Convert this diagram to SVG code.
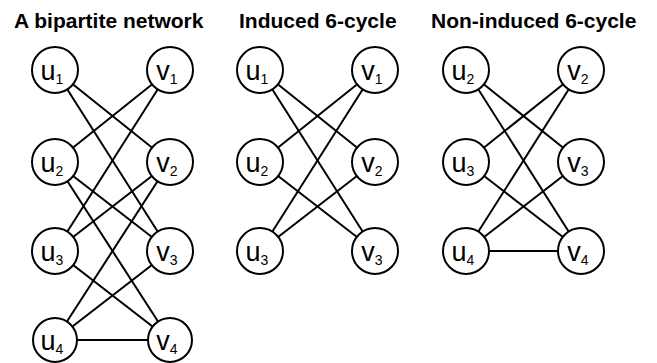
<svg xmlns="http://www.w3.org/2000/svg" width="657" height="363" viewBox="0 0 657 363">
<style>
.t{font-family:"Liberation Sans",Arial,sans-serif;font-weight:bold;font-size:21px;fill:#000}
.n circle{fill:#fff;stroke:#000;stroke-width:2}
.n text{font-family:"Liberation Sans",Arial,sans-serif;font-size:27px;fill:#000;text-anchor:middle}
.n tspan{font-size:14px}
.e line{stroke:#000;stroke-width:2}
</style>
<rect width="657" height="363" fill="#fff"/>
<text class="t" x="14" y="28">A bipartite network</text>
<text class="t" x="239" y="28">Induced 6-cycle</text>
<text class="t" x="431" y="28">Non-induced 6-cycle</text>
<g id="connectors" class="e">
<line x1="55" y1="70" x2="170" y2="162"/>
<line x1="55" y1="70" x2="170" y2="251"/>
<line x1="170" y1="70" x2="55" y2="162"/>
<line x1="170" y1="70" x2="55" y2="251"/>
<line x1="55" y1="162" x2="170" y2="251"/>
<line x1="55" y1="162" x2="170" y2="340"/>
<line x1="170" y1="162" x2="55" y2="251"/>
<line x1="170" y1="162" x2="55" y2="340"/>
<line x1="55" y1="251" x2="170" y2="340"/>
<line x1="55" y1="340" x2="170" y2="251"/>
<line x1="55" y1="340" x2="170" y2="340"/>
<line x1="260" y1="70" x2="375" y2="162"/>
<line x1="260" y1="70" x2="375" y2="251"/>
<line x1="375" y1="70" x2="260" y2="162"/>
<line x1="375" y1="70" x2="260" y2="251"/>
<line x1="260" y1="162" x2="375" y2="251"/>
<line x1="375" y1="162" x2="260" y2="251"/>
<line x1="466" y1="70" x2="581" y2="162"/>
<line x1="466" y1="70" x2="581" y2="251"/>
<line x1="581" y1="70" x2="466" y2="162"/>
<line x1="581" y1="70" x2="466" y2="251"/>
<line x1="466" y1="162" x2="581" y2="251"/>
<line x1="466" y1="251" x2="581" y2="162"/>
<line x1="466" y1="251" x2="581" y2="251"/>
</g>
<g id="L_u1" class="n"><circle cx="55" cy="70" r="23"/><text x="52" y="80">u<tspan dy="4">1</tspan></text></g>
<g id="L_v1" class="n"><circle cx="170" cy="70" r="23"/><text x="167" y="80">v<tspan dy="4">1</tspan></text></g>
<g id="L_u2" class="n"><circle cx="55" cy="162" r="23"/><text x="52" y="172">u<tspan dy="4">2</tspan></text></g>
<g id="L_v2" class="n"><circle cx="170" cy="162" r="23"/><text x="167" y="172">v<tspan dy="4">2</tspan></text></g>
<g id="L_u3" class="n"><circle cx="55" cy="251" r="23"/><text x="52" y="261">u<tspan dy="4">3</tspan></text></g>
<g id="L_v3" class="n"><circle cx="170" cy="251" r="23"/><text x="167" y="261">v<tspan dy="4">3</tspan></text></g>
<g id="L_u4" class="n"><circle cx="55" cy="340" r="22"/><text x="52" y="350">u<tspan dy="4">4</tspan></text></g>
<g id="L_v4" class="n"><circle cx="170" cy="340" r="22"/><text x="167" y="350">v<tspan dy="4">4</tspan></text></g>
<g id="M_u1" class="n"><circle cx="260" cy="70" r="23"/><text x="257" y="80">u<tspan dy="4">1</tspan></text></g>
<g id="M_v1" class="n"><circle cx="375" cy="70" r="23"/><text x="372" y="80">v<tspan dy="4">1</tspan></text></g>
<g id="M_u2" class="n"><circle cx="260" cy="162" r="23"/><text x="257" y="172">u<tspan dy="4">2</tspan></text></g>
<g id="M_v2" class="n"><circle cx="375" cy="162" r="23"/><text x="372" y="172">v<tspan dy="4">2</tspan></text></g>
<g id="M_u3" class="n"><circle cx="260" cy="251" r="23"/><text x="257" y="261">u<tspan dy="4">3</tspan></text></g>
<g id="M_v3" class="n"><circle cx="375" cy="251" r="23"/><text x="372" y="261">v<tspan dy="4">3</tspan></text></g>
<g id="R_u2" class="n"><circle cx="466" cy="70" r="23"/><text x="463" y="80">u<tspan dy="4">2</tspan></text></g>
<g id="R_v2" class="n"><circle cx="581" cy="70" r="23"/><text x="578" y="80">v<tspan dy="4">2</tspan></text></g>
<g id="R_u3" class="n"><circle cx="466" cy="162" r="23"/><text x="463" y="172">u<tspan dy="4">3</tspan></text></g>
<g id="R_v3" class="n"><circle cx="581" cy="162" r="23"/><text x="578" y="172">v<tspan dy="4">3</tspan></text></g>
<g id="R_u4" class="n"><circle cx="466" cy="251" r="23"/><text x="463" y="261">u<tspan dy="4">4</tspan></text></g>
<g id="R_v4" class="n"><circle cx="581" cy="251" r="23"/><text x="578" y="261">v<tspan dy="4">4</tspan></text></g>
</svg>
